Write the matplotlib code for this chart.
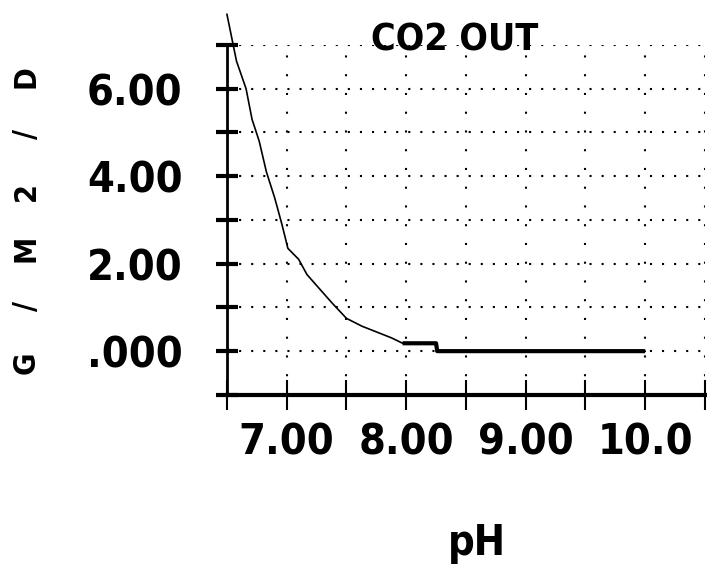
import matplotlib
matplotlib.use("Agg")
import numpy as np
import matplotlib.pyplot as plt
from matplotlib import font_manager

# data
ph = [6.50, 6.58, 6.66, 6.71, 6.77, 6.83, 6.90, 6.96, 7.01, 7.10, 7.17, 7.27,
      7.38, 7.50, 7.63, 7.76, 7.88, 7.97, 8.10, 8.25, 8.26, 8.50, 9.00, 9.50, 10.00]
co2_out = [7.70, 6.63, 6.00, 5.30, 4.80, 4.10, 3.50, 2.90, 2.35, 2.10, 1.75, 1.44,
           1.10, 0.75, 0.57, 0.43, 0.30, 0.18, 0.18, 0.18, 0.0, 0.0, 0.0, 0.0, 0.0]

xtick_vals = [7, 8, 9, 10]
xtick_labels = ["7.00", "8.00", "9.00", "10.0"]
ytick_vals = [0, 2, 4, 6]
ytick_labels = [".000", "2.00", "4.00", "6.00"]

title = "CO2 OUT"
xlabel = "pH"
ylabel = "G/M2/D"

# pick a narrow font if there is one
names = {f.name for f in font_manager.fontManager.ttflist}
if "Liberation Sans Narrow" in names:
    font = dict(family="Liberation Sans Narrow", weight="bold")
else:
    font = dict(family="DejaVu Sans", stretch="condensed", weight="bold")

fig = plt.figure(figsize=(7.07, 5.69), dpi=100)
ax = fig.add_axes([0.321, 0.306, 0.676, 0.615])

ph_arr = np.array(ph)
co2_arr = np.array(co2_out)
ax.plot(ph_arr, co2_arr, color="black", lw=1.2, clip_on=False, zorder=3)
low = co2_arr <= 0.2
ax.plot(ph_arr[low], co2_arr[low], color="black", lw=3, solid_capstyle="butt", zorder=3)

ax.set_xlim(6.5, 10.5)
ax.set_ylim(-1, 7)

ax.set_xticks(xtick_vals)
ax.set_xticklabels(xtick_labels)
ax.set_xticks(np.arange(6.5, 10.51, 0.5), minor=True)
ax.set_yticks(ytick_vals)
ax.set_yticklabels(ytick_labels)
ax.set_yticks(np.arange(-1, 7.01, 1), minor=True)

for lab in ax.get_xticklabels() + ax.get_yticklabels():
    lab.set_fontsize(31)
    lab.set_fontfamily(font["family"])
    lab.set_fontweight("bold")
    if "stretch" in font:
        lab.set_fontstretch(font["stretch"])

ax.tick_params(axis="x", which="both", direction="inout", length=22, width=1.5, pad=8)
ax.tick_params(axis="y", which="both", direction="inout", length=16, width=3, pad=24)

ax.xaxis.grid(True, which="both", color="black", linestyle=(0, (1, 8)), lw=1.5)
ax.yaxis.grid(True, which="both", color="black", linestyle=(0, (1, 4.8)), lw=1.5)

for side in ["top", "right"]:
    ax.spines[side].set_visible(False)
ax.spines["left"].set_linewidth(2)
ax.spines["bottom"].set_linewidth(3)

ax.text(0.477, 1.014, title, transform=ax.transAxes, ha="center", va="center",
        fontsize=27, **font)
fig.text(0.675, 0.045, xlabel, ha="center", va="center", fontsize=30, **font)

# stacked y label, one character at a time
ys = np.linspace(1 - 363 / 569, 1 - 77 / 569, len(ylabel))
for ch, yy in zip(ylabel, ys):
    fig.text(0.037, yy, ch, rotation=90, ha="center", va="center", fontsize=22, **font)

plt.savefig("out.png", dpi=100)
plt.close()
